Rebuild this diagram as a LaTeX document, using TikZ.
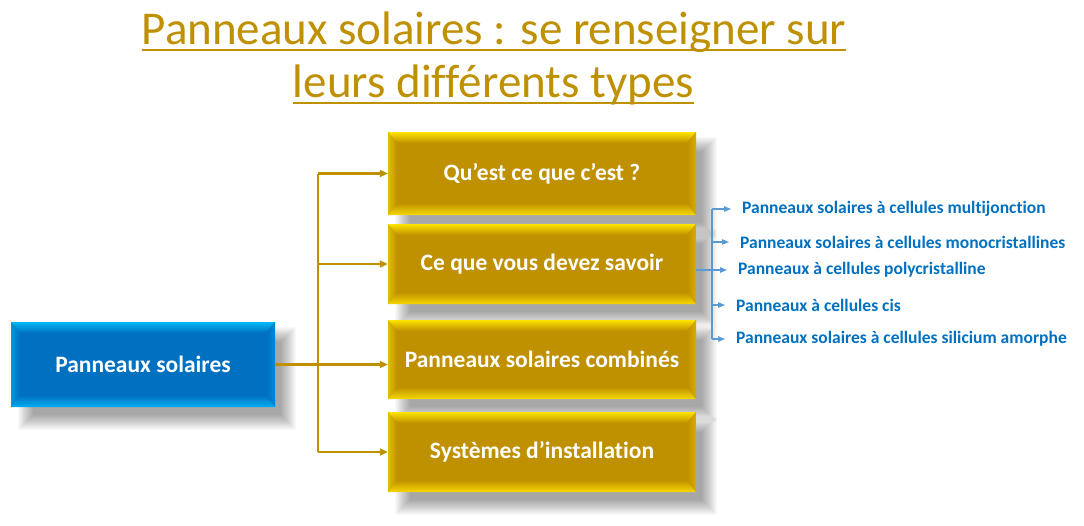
\documentclass[tikz,border=0pt]{standalone}
\usepackage{fontspec}
\setmainfont{Carlito}[Ligatures=NoCommon]
\usetikzlibrary{arrows.meta}
\definecolor{gold}{HTML}{BF9000}
\definecolor{goldlight}{HTML}{FFE400}
\definecolor{bluemain}{HTML}{0070C0}
\definecolor{bluelight}{HTML}{00B8F8}
\definecolor{linkblue}{HTML}{5B9BD5}
\definecolor{labelblue}{HTML}{0070C0}
\newcommand{\bevelrect}[6]{%
  \foreach \k in {0,...,15}{%
    \fill[black,opacity=0.022] (#1+22-\k,#2+20-\k) rectangle (#3+6+\k,#4+8+\k);}
  \fill[#5] (#1,#2) rectangle (#3,#4);
  \shade[top color=#6, bottom color=#5] (#1,#2) -- (#3,#2) -- (#3-9,#2+11) -- (#1+9,#2+11) -- cycle;
  \shade[top color=#5, bottom color=#6!85!#5] (#1,#4) -- (#3,#4) -- (#3-9,#4-12) -- (#1+9,#4-12) -- cycle;
  \shade[left color=#6!55!#5, right color=#5] (#1,#2) -- (#1+9,#2+11) -- (#1+9,#4-12) -- (#1,#4) -- cycle;
  \shade[left color=#5, right color=#6!35!#5] (#3,#2) -- (#3-9,#2+11) -- (#3-9,#4-12) -- (#3,#4) -- cycle;
}
\tikzset{
  boxtext/.style={font=\bfseries\fontsize{23.5}{26}\selectfont, text=white, inner sep=0pt},
  titletext/.style={font=\fontsize{47}{52}\selectfont, text=gold, inner sep=0pt, anchor=base},
  goldlink/.style={draw=gold, line width=2.5pt},
  goldarrow/.style={goldlink, -{Triangle[length=8pt,width=7pt]}},
  bluelink/.style={draw=linkblue, line width=1.1pt},
  bluearrow/.style={bluelink, -{Triangle[length=7pt,width=5.5pt]}},
  subtext/.style={font=\bfseries\fontsize{17.5}{19}\selectfont, text=labelblue, inner xsep=11pt, inner ysep=0pt, anchor=west},
}
\begin{document}
\begin{tikzpicture}[x=1pt,y=-1pt]
\useasboundingbox (0,0) rectangle (1084,525);
\fill[white] (0,0) rectangle (1084,525);
% title
\node[titletext] (title1) at (494,44) {Panneaux solaires : se renseigner sur};
\node[titletext] (title2) at (493.5,97) {leurs différents types};
\draw[gold, line width=2.5pt] ([yshift=-6pt]title1.base west) -- ([yshift=-6pt]title1.base east);
\draw[gold, line width=2.5pt] ([yshift=-6pt]title2.base west) -- ([yshift=-6pt]title2.base east);
% boxes
\bevelrect{11}{322}{275}{407}{bluemain}{bluelight}
\bevelrect{388}{132}{696}{215}{gold}{goldlight}
\bevelrect{388}{224}{696}{304}{gold}{goldlight}
\bevelrect{388}{320}{696}{399}{gold}{goldlight}
\bevelrect{388}{412}{696}{492}{gold}{goldlight}
\node[boxtext, minimum width=264pt, minimum height=85pt] (main) at (143,364.5) {Panneaux solaires};
\node[boxtext, minimum width=308pt, minimum height=83pt] (q1) at (542,173.5) {Qu’est ce que c’est ?};
\node[boxtext, minimum width=308pt, minimum height=80pt] (q2) at (542,264) {Ce que vous devez savoir};
\node[boxtext, minimum width=308pt, minimum height=79pt] (q3) at (542,359.5) {Panneaux solaires combinés};
\node[boxtext, minimum width=308pt, minimum height=80pt] (q4) at (542,452) {Systèmes d’installation};
% gold connectors
\coordinate (bus) at (318,0);
\draw[goldarrow] (main.east) -- (main.east -| q3.west);
\draw[goldlink] (bus |- q1.west) -- (bus |- q4.west);
\draw[goldarrow] (bus |- q1.west) -- (q1.west);
\draw[goldarrow] (bus |- q2.west) -- (q2.west);
\draw[goldarrow] (bus |- q4.west) -- (q4.west);
% sub labels
\node[subtext] (s1) at (731,209) {Panneaux solaires à cellules multijonction};
\node[subtext] (s2) at (729,242) {Panneaux solaires à cellules monocristallines};
\node[subtext] (s3) at (727,270) {Panneaux à cellules polycristalline};
\node[subtext] (s4) at (725,305) {Panneaux à cellules cis};
\node[subtext] (s5) at (725,339) {Panneaux solaires à cellules silicium amorphe};
\coordinate (vb) at (712,0);
\draw[bluelink] (vb |- s1.west) -- (vb |- s5.west);
\draw[bluearrow] (q2.east |- s3.west) -- (s3.west);
\draw[bluearrow] (vb |- s1.west) -- (s1.west);
\draw[bluearrow] (vb |- s2.west) -- (s2.west);
\draw[bluearrow] (vb |- s4.west) -- (s4.west);
\draw[bluearrow] (vb |- s5.west) -- (s5.west);
\end{tikzpicture}
\end{document}
